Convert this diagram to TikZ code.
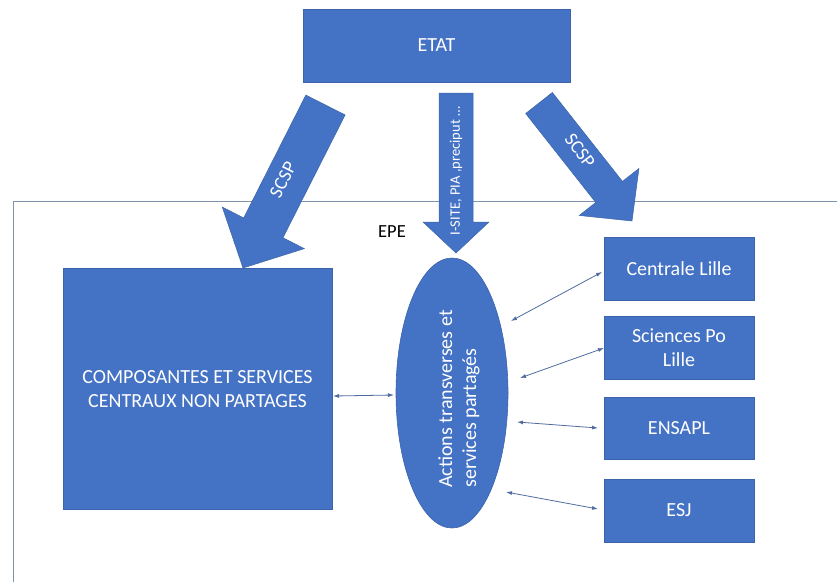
\documentclass[tikz,border=0pt]{standalone}
\usepackage{fontspec}
\setmainfont{Carlito}
\usetikzlibrary{calc,shapes.geometric,arrows.meta}
\definecolor{officeblue}{RGB}{68,114,196}
\definecolor{officeedge}{RGB}{60,100,170}
\definecolor{framecol}{RGB}{128,146,172}
\definecolor{linkcol}{RGB}{80,108,158}
\tikzset{
  bluebox/.style={rectangle, fill=officeblue, draw=officeedge, line width=0.6pt,
    text=white, font=\fontsize{20}{24}\selectfont, align=center, inner sep=0pt},
  blueoval/.style={ellipse, fill=officeblue, draw=officeedge, line width=0.6pt, inner sep=0pt},
  arrowfill/.style={fill=officeblue, draw=officeedge, line width=0.5pt},
  arrowtext/.style={text=white, font=\fontsize{19}{22}\selectfont, inner sep=0pt},
  smalltext/.style={text=white, font=\fontsize{14.5}{17}\selectfont, inner sep=0pt},
  link/.style={draw=linkcol, line width=0.8pt, {Latex[length=6pt,width=4pt]}-{Latex[length=6pt,width=4pt]}},
  framestyle/.style={draw=framecol, line width=0.8pt}
}
% #1 name prefix, #2 half shaft width, #3 half head width, #4 head length
\newcommand\blockarrow[4]{%
  \coordinate (#1-h) at ($(#1-p)!#4!(#1-t)$);
  \path[arrowfill] ($(#1-t)!#2!90:(#1-p)$) -- ($(#1-h)!#2!90:(#1-p)$) -- ($(#1-h)!#3!90:(#1-p)$)
    -- (#1-p) -- ($(#1-h)!#3!-90:(#1-p)$) -- ($(#1-h)!#2!-90:(#1-p)$) -- ($(#1-t)!#2!-90:(#1-p)$) -- cycle;}
\begin{document}
\begin{tikzpicture}[x=1pt,y=-1pt]
\useasboundingbox (0,0) rectangle (837,581);
\clip (0,0) rectangle (837,581);
% EPE frame
\draw[framestyle] (845,201) -- (13,201) -- (13,590);
\node[font=\fontsize{18.5}{22}\selectfont, text=black, inner sep=0pt] (epe) at (392,232) {EPE};

% nodes
\node[bluebox, minimum width=267pt, minimum height=73pt] (etat) at (436.5,45.5) {ETAT};
\node[bluebox, minimum width=269pt, minimum height=241pt] (comp) at (197.5,389)
  {COMPOSANTES ET SERVICES\\CENTRAUX NON PARTAGES};
\node[blueoval, minimum width=112pt, minimum height=270pt] (act) at (452,393) {};
\node[text=white, font=\fontsize{20}{24}\selectfont, align=left, rotate=90, inner sep=0pt]
  (acttext) at (459,399) {Actions transverses et\\services partagés};
\node[bluebox, minimum width=150pt, minimum height=63pt] (centrale) at (679,268.5) {Centrale Lille};
\node[bluebox, minimum width=150pt, minimum height=63pt] (scpo) at (679,347.5) {Sciences Po\\Lille};
\node[bluebox, minimum width=150pt, minimum height=62pt] (ensapl) at (679,428) {ENSAPL};
\node[bluebox, minimum width=150pt, minimum height=63pt] (esj) at (679,510.5) {ESJ};

% block arrows
\coordinate (la-t) at (325.5,105); \coordinate (la-p) at (243,268);
\blockarrow{la}{22pt}{46pt}{45pt}
\coordinate (ma-t) at (456,93); \coordinate (ma-p) at (456,253);
\blockarrow{ma}{17pt}{33pt}{31pt}
\coordinate (ra-t) at (539,103); \coordinate (ra-p) at (632,221);
\blockarrow{ra}{17pt}{38pt}{37pt}
\node[arrowtext, rotate=63] (lalabel) at (283,180) {SCSP};
\node[arrowtext, rotate=-53] (ralabel) at (580,151) {SCSP};
\node[smalltext, rotate=90] (malabel) at (456,171) {I-SITE, PIA ,preciput …};

% thin double arrows
\coordinate (c1a) at (333,396); \coordinate (c1b) at (394,395);
\coordinate (c2a) at (511,321); \coordinate (c2b) at (602,272);
\coordinate (c3a) at (520,378); \coordinate (c3b) at (604,348);
\coordinate (c4a) at (517,422); \coordinate (c4b) at (598,428);
\coordinate (c5a) at (506,492); \coordinate (c5b) at (598,509);
\draw[link] (c1a) -- (c1b);
\draw[link] (c2a) -- (c2b);
\draw[link] (c3a) -- (c3b);
\draw[link] (c4a) -- (c4b);
\draw[link] (c5a) -- (c5b);
\end{tikzpicture}
\end{document}
